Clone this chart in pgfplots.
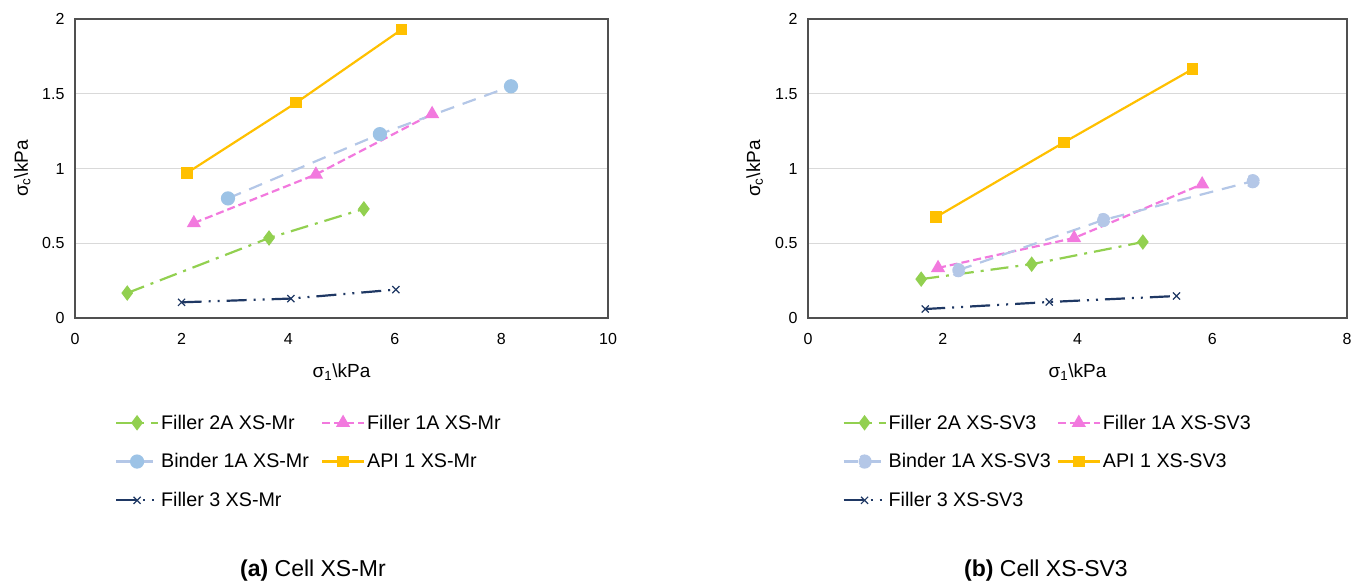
\documentclass[border=0pt]{standalone}
\usepackage{pgfplots}
\pgfplotsset{compat=1.18}
\usepackage{fontspec}
\setmainfont{Liberation Sans}

\definecolor{fgreen}{RGB}{146,208,80}
\definecolor{fpink}{RGB}{242,121,222}
\definecolor{bline}{RGB}{180,199,231}
\definecolor{bmark}{RGB}{157,195,230}
\definecolor{agold}{RGB}{255,192,0}
\definecolor{fnavy}{RGB}{31,56,100}
\definecolor{framegray}{RGB}{80,80,80}
\definecolor{gridgray}{RGB}{217,217,217}

\pgfplotsset{
  cellaxis/.style={
    scale only axis,
    height=299pt,
    ymin=0, ymax=2,
    ytick={0,0.5,1,1.5,2},
    axis line style={draw=framegray, line width=1.1pt},
    ymajorgrids,
    grid style={gridgray, line width=1.2pt},
    major tick length=0pt,
    tick label style={font=\fontsize{16}{19}\selectfont},
    yticklabel style={xshift=-7pt},
    xticklabel style={yshift=-12pt},
    /pgf/number format/assume math mode=true,
    xlabel={σ\textsubscript{1}\textbackslash kPa},
    ylabel={σ\textsubscript{c}\textbackslash kPa},
    every axis x label/.style={at={(axis description cs:0.5,-0.18)}, anchor=center,
      font=\fontsize{19}{22}\selectfont},
    every axis y label/.style={at={(axis description cs:-0.099,0.5)}, rotate=90, anchor=center,
      font=\fontsize{19}{22}\selectfont},
    legend columns=2,
    legend cell align=left,
    legend style={draw=none, fill=none, anchor=north west,
      font=\fontsize{19.7}{23}\selectfont, row sep=19pt},
    legend image code/.code={\draw[mark repeat=2,mark phase=2,#1]
      plot coordinates {(0pt,0pt) (21pt,0pt) (42pt,0pt)};},
  },
  f2a/.style={fgreen, line width=2.2pt, dash pattern=on 18pt off 7pt on 3pt off 7pt,
    mark=diamond*, mark size=6pt, mark options={solid, fill=fgreen, draw=fgreen}},
  f1a/.style={fpink, line width=2.2pt, dash pattern=on 8pt off 4pt,
    mark=triangle*, mark size=6pt, mark options={solid, fill=fpink, draw=fpink}},
  b1a/.style={bline, line width=2.2pt, dash pattern=on 14pt off 9pt,
    mark=*, mark size=6pt, mark options={solid, fill=bmark, draw=bmark}},
  api/.style={agold, line width=2.2pt, solid,
    mark=square*, mark size=4.6pt, mark options={solid, fill=agold, draw=agold}},
  f3/.style={fnavy, line width=2.2pt, dash pattern=on 20pt off 7pt on 2pt off 7pt on 2pt off 7pt,
    mark=x, mark size=5pt, mark options={solid, line width=1.2pt}},
}

\begin{document}
\begin{tikzpicture}
\path[use as bounding box] (0pt,0pt) rectangle (1362pt,583pt);

% (a) Cell XS-Mr
\begin{axis}[cellaxis, at={(75pt,265pt)}, anchor=south west,
  width=533pt, xmin=0, xmax=10, xtick={0,2,4,6,8,10},
  legend style={at={(0.069,-0.31)},
    /tikz/every even column/.append style={column sep=10pt}}]
\addplot[f2a] coordinates {(0.98,0.167) (3.64,0.535) (5.42,0.73)};
\addlegendentry{Filler 2A XS-Mr}
\addplot[f1a] coordinates {(2.23,0.635) (4.52,0.96) (6.70,1.365)};
\addlegendentry{Filler 1A XS-Mr}
\addplot[b1a] coordinates {(2.87,0.80) (5.72,1.23) (8.18,1.55)};
\addlegendentry{Binder 1A XS-Mr}
\addplot[api] coordinates {(2.10,0.97) (4.15,1.44) (6.13,1.93)};
\addlegendentry{API 1 XS-Mr}
\addplot[f3] coordinates {(2.00,0.105) (4.05,0.13) (6.02,0.19)};
\addlegendentry{Filler 3 XS-Mr}
\end{axis}

% (b) Cell XS-SV3
\begin{axis}[cellaxis, at={(808pt,265pt)}, anchor=south west,
  width=539pt, xmin=0, xmax=8, xtick={0,2,4,6,8},
  legend style={at={(0.058,-0.31)},
    /tikz/every even column/.append style={column sep=4pt}}]
\addplot[f2a] coordinates {(1.68,0.26) (3.32,0.36) (4.97,0.508)};
\addlegendentry{Filler 2A XS-SV3}
\addplot[f1a] coordinates {(1.93,0.335) (3.95,0.535) (5.85,0.895)};
\addlegendentry{Filler 1A XS-SV3}
\addplot[b1a, mark options={fill=bline, draw=bline}] coordinates {(2.23,0.32) (4.38,0.655) (6.60,0.915)};
\addlegendentry{Binder 1A XS-SV3}
\addplot[api] coordinates {(1.90,0.675) (3.80,1.175) (5.71,1.665)};
\addlegendentry{API 1 XS-SV3}
\addplot[f3] coordinates {(1.74,0.06) (3.58,0.107) (5.47,0.147)};
\addlegendentry{Filler 3 XS-SV3}
\end{axis}

\node[font=\fontsize{23}{26}\selectfont, anchor=center] at (313pt,12pt) {\textbf{(a)} Cell XS-Mr};
\node[font=\fontsize{23}{26}\selectfont, anchor=center] at (1046pt,12pt) {\textbf{(b)} Cell XS-SV3};
\end{tikzpicture}
\end{document}
